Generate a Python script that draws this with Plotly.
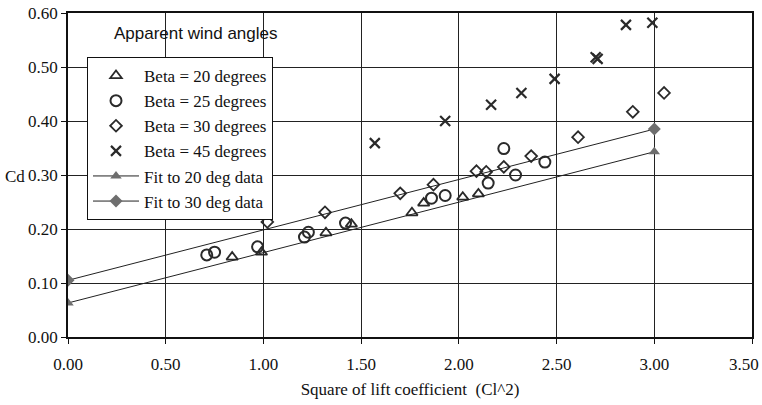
import plotly.graph_objects as go

# Beta = 20 degrees (triangles)
b20_x = [0.84, 0.99, 1.32, 1.45, 1.76, 1.82, 2.02, 2.10]
b20_y = [0.148, 0.157, 0.193, 0.209, 0.230, 0.248, 0.259, 0.265]

# Beta = 25 degrees (circles)
b25_x = [0.71, 0.75, 0.97, 1.21, 1.23, 1.42, 1.86, 1.93, 2.15, 2.23, 2.29, 2.44]
b25_y = [0.152, 0.157, 0.167, 0.185, 0.194, 0.211, 0.257, 0.262, 0.285, 0.349, 0.300, 0.324]

# Beta = 30 degrees (diamonds)
b30_x = [1.02, 1.315, 1.70, 1.87, 2.09, 2.14, 2.23, 2.37, 2.61, 2.89, 3.05]
b30_y = [0.213, 0.231, 0.266, 0.282, 0.307, 0.306, 0.315, 0.335, 0.370, 0.417, 0.452]

# Beta = 45 degrees (crosses)
b45_x = [1.57, 1.93, 2.165, 2.32, 2.49, 2.70, 2.71, 2.855, 2.99]
b45_y = [0.359, 0.400, 0.430, 0.452, 0.478, 0.518, 0.515, 0.578, 0.582]

# Linear fits
fit20_x = [0.0, 3.0]
fit20_y = [0.063, 0.343]
fit30_x = [0.0, 3.0]
fit30_y = [0.105, 0.385]

x_ticks = [0, 0.5, 1.0, 1.5, 2.0, 2.5, 3.0, 3.5]
x_tick_labels = ["0.00", "0.50", "1.00", "1.50", "2.00", "2.50", "3.00", "3.50"]
y_ticks = [0, 0.1, 0.2, 0.3, 0.4, 0.5, 0.6]

MK = "#2a2a2a"
FIT = "#6e6e6e"
SERIF = "Liberation Serif, Times New Roman, serif"
SANS = "Liberation Sans, Arial, sans-serif"

L, R, T, B = 68, 10, 13, 68
W, H = 762, 405
pw, ph = W - L - R, H - T - B


def px_x(px):
    return (px - L) / pw


def px_y(py):
    return (H - B - py) / ph


fig = go.Figure()
fig.add_trace(go.Scatter(x=b20_x, y=b20_y, mode="markers", name="Beta = 20 degrees",
                         marker=dict(symbol="triangle-up-open", size=10, color=MK, line=dict(width=1.8, color=MK))))
fig.add_trace(go.Scatter(x=b25_x, y=b25_y, mode="markers", name="Beta = 25 degrees",
                         marker=dict(symbol="circle-open", size=11, color=MK, line=dict(width=2, color=MK))))
fig.add_trace(go.Scatter(x=b30_x, y=b30_y, mode="markers", name="Beta = 30 degrees",
                         marker=dict(symbol="diamond-open", size=9, color=MK, line=dict(width=1.8, color=MK))))
fig.add_trace(go.Scatter(x=b45_x, y=b45_y, mode="markers", name="Beta = 45 degrees",
                         marker=dict(symbol="x-thin-open", size=10, color=MK, line=dict(width=2.2, color=MK))))
fig.add_trace(go.Scatter(x=fit20_x, y=fit20_y, mode="lines+markers", name="Fit to 20 deg data",
                         line=dict(color="#222222", width=1),
                         marker=dict(symbol="triangle-up", size=10, color=FIT)))
fig.add_trace(go.Scatter(x=fit30_x, y=fit30_y, mode="lines+markers", name="Fit to 30 deg data",
                         line=dict(color="#222222", width=1),
                         marker=dict(symbol="diamond", size=10, color=FIT)))

# last x tick label would run off the page edge; show it right-aligned at the edge
shown_labels = x_tick_labels[:-1] + [""]

fig.update_layout(
    width=W, height=H,
    margin=dict(l=L, r=R, t=T, b=B, autoexpand=False),
    paper_bgcolor="white", plot_bgcolor="white",
    font=dict(family=SERIF, size=17, color="#111111"),
    showlegend=True,
    legend=dict(x=px_x(87), y=px_y(57), xanchor="left", yanchor="top",
                bgcolor="white", bordercolor="#111111", borderwidth=1,
                font=dict(family=SERIF, size=17, color="#111111"),
                itemwidth=46, tracegroupgap=0),
    xaxis=dict(range=[0, 3.5], tickvals=x_ticks, ticktext=shown_labels,
               showgrid=True, gridcolor="#222222", gridwidth=1,
               showline=True, linecolor="#111111", linewidth=1.5, mirror=True,
               ticks="outside", ticklen=5, tickcolor="#111111",
               zeroline=False, ticklabelstandoff=6,
               automargin=False,
               tickfont=dict(family=SERIF, size=17),
               title=dict(text="Square of lift coefficient  (Cl^2)", standoff=10,
                          font=dict(family=SERIF, size=17))),
    yaxis=dict(range=[0, 0.6], tickvals=y_ticks, tickformat=".2f",
               showgrid=True, gridcolor="#222222", gridwidth=1,
               showline=True, linecolor="#111111", linewidth=1.5, mirror=True,
               ticks="outside", ticklen=5, tickcolor="#111111",
               zeroline=False, ticklabelstandoff=0, automargin=False,
               tickfont=dict(family=SERIF, size=17)),
    annotations=[
        dict(text="Apparent wind angles", x=px_x(196), y=px_y(33), xref="paper", yref="paper",
             xanchor="center", yanchor="middle",
             showarrow=False, font=dict(family=SANS, size=17, color="#111111")),
        dict(text="Cd", x=px_x(15), y=px_y(176), xref="paper", yref="paper",
             xanchor="center", yanchor="middle",
             showarrow=False, font=dict(family=SERIF, size=17, color="#111111")),
        dict(text=x_tick_labels[-1], x=px_x(761), y=px_y(364), xref="paper", yref="paper",
             xanchor="right", yanchor="middle",
             showarrow=False, font=dict(family=SERIF, size=17, color="#111111")),
    ],
)

fig.write_html("out.html")
